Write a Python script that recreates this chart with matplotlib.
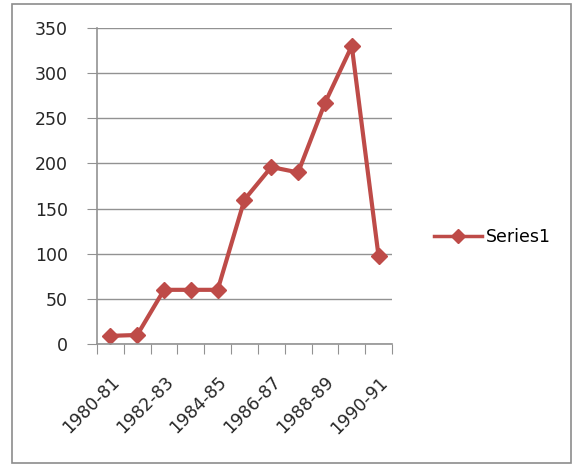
import matplotlib
matplotlib.use("Agg")
import matplotlib.pyplot as plt
from matplotlib.patches import Rectangle
from matplotlib.lines import Line2D

categories = ["1980-81", "1981-82", "1982-83", "1983-84", "1984-85", "1985-86",
              "1986-87", "1987-88", "1988-89", "1989-90", "1990-91"]
values = [9, 10, 60, 60, 60, 160, 196, 190, 267, 330, 97]
yticks = [0, 50, 100, 150, 200, 250, 300, 350]
series_name = "Series1"

color = "#BE4B48"
grid_c = "#929292"
txt_c = "#262626"
fs = 12.5

fig = plt.figure(figsize=(5.73, 4.65), dpi=100)
fig.patch.set_facecolor("white")
fig.patches.append(Rectangle((12/573, 1-463/465), 559/573, 459/465,
                             transform=fig.transFigure, fill=False,
                             edgecolor="#8C8C8C", linewidth=1.2))

ax = fig.add_axes([97/573, 1-344/465, 295/573, 316/465])
x = list(range(len(categories)))
ax.plot(x, values, color=color, linewidth=3, marker="D", markersize=8.5,
        markerfacecolor=color, markeredgecolor=color, label=series_name)

ax.set_xlim(-0.5, len(categories) - 0.5)
ax.set_ylim(0, 350)
ax.set_yticks(yticks)
ax.set_yticklabels([str(v) for v in yticks], fontsize=fs, color=txt_c)
ax.yaxis.grid(True, color=grid_c, linewidth=1)
ax.set_axisbelow(True)

# x ticks at category boundaries, labels every other category
ax.set_xticks([i - 0.5 for i in range(len(categories) + 1)])
ax.set_xticklabels([])
ax.set_xticks(x[::2], minor=True)
ax.set_xticklabels(categories[::2], minor=True, rotation=45, ha="right",
                   va="top", rotation_mode="anchor", fontsize=fs, color=txt_c)
ax.tick_params(axis="x", which="major", length=7, color=grid_c, direction="out")
ax.tick_params(axis="x", which="minor", length=0, pad=21)
ax.tick_params(axis="y", length=7, color=grid_c, pad=14)

for s in ["top", "right"]:
    ax.spines[s].set_visible(False)
ax.spines["left"].set_color(grid_c)
ax.spines["bottom"].set_color(grid_c)
ax.spines["left"].set_linewidth(1.2)
ax.spines["bottom"].set_linewidth(1.2)

handle = Line2D([], [], color=color, linewidth=2.5, marker="D", markersize=7.5,
                markerfacecolor=color, markeredgecolor=color)
fig.legend([handle], [series_name], loc="center left",
           bbox_to_anchor=(418/573, 1-237/465), frameon=False, fontsize=fs,
           handlelength=2.8, handletextpad=0.2)

fig.savefig("out.png", dpi=100)
